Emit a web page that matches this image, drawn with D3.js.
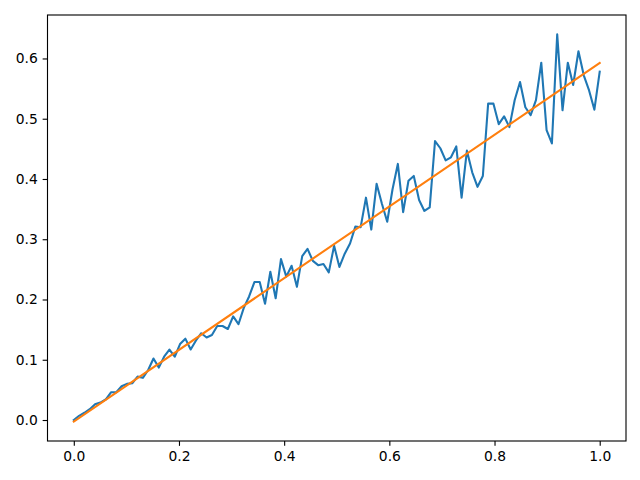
<!DOCTYPE html>
<html>
<head>
<meta charset="utf-8">
<script src="https://cdn.jsdelivr.net/npm/d3@7"></script>
<style>
  html, body { margin: 0; padding: 0; background: #fff; }
  svg { display: block; }
</style>
</head>
<body>
<svg id="chart" width="640" height="480"></svg>
<script>
// ---- data ----
const noisyY = [
  0.000, 0.007, 0.012, 0.018, 0.026, 0.029, 0.034, 0.046, 0.046, 0.056,
  0.060, 0.061, 0.072, 0.070, 0.083, 0.102, 0.087, 0.105, 0.117, 0.105,
  0.126, 0.135, 0.117, 0.132, 0.144, 0.137, 0.141, 0.156, 0.156, 0.151,
  0.172, 0.159, 0.186, 0.205, 0.229, 0.229, 0.193, 0.246, 0.202, 0.267,
  0.238, 0.256, 0.221, 0.272, 0.284, 0.264, 0.257, 0.259, 0.245, 0.289,
  0.254, 0.276, 0.293, 0.321, 0.320, 0.369, 0.316, 0.392, 0.359, 0.329,
  0.383, 0.425, 0.345, 0.397, 0.405, 0.365, 0.347, 0.353, 0.463, 0.451,
  0.431, 0.436, 0.454, 0.369, 0.447, 0.411, 0.387, 0.405, 0.525, 0.525,
  0.491, 0.504, 0.486, 0.531, 0.561, 0.519, 0.506, 0.531, 0.593, 0.481,
  0.459, 0.640, 0.514, 0.593, 0.556, 0.612, 0.572, 0.547, 0.515, 0.578
];
const fitX = [0, 1];
const fitY = [-0.0027, 0.5925];
const xTicks = [0, 0.2, 0.4, 0.6, 0.8, 1.0];
const yTicks = [0, 0.1, 0.2, 0.3, 0.4, 0.5, 0.6];

(function () {
  // ---- layout ----
  const dpi = 100, pt = dpi / 72;
  const mLeft = 47.5, mRight = 626, mTop = 15, mBottom = 441;
  const fontSize = 10 * pt;
  const tickLen = 3.5 * pt, tickPad = 3.5 * pt;

  const n = noisyY.length;
  const xs = noisyY.map((_, i) => i / (n - 1));
  const pts = xs.map((xv, i) => [xv, noisyY[i]]);
  const fitPts = fitX.map((xv, i) => [xv, fitY[i]]);

  const xMin = 0, xMax = 1;
  const yMin = Math.min(d3.min(noisyY), d3.min(fitY));
  const yMax = Math.max(d3.max(noisyY), d3.max(fitY));
  const xm = (xMax - xMin) * 0.05, ym = (yMax - yMin) * 0.05;

  const x = d3.scaleLinear().domain([xMin - xm, xMax + xm]).range([mLeft, mRight]);
  const y = d3.scaleLinear().domain([yMin - ym, yMax + ym]).range([mBottom, mTop]);

  const svg = d3.select("#chart");
  const line = d3.line().x(d => x(d[0])).y(d => y(d[1]));

  svg.append("path").datum(pts)
    .attr("d", line)
    .attr("fill", "none")
    .attr("stroke", "#1f77b4")
    .attr("stroke-width", 1.5 * pt)
    .attr("stroke-linejoin", "round")
    .attr("stroke-linecap", "square");

  svg.append("path").datum(fitPts)
    .attr("d", line)
    .attr("fill", "none")
    .attr("stroke", "#ff7f0e")
    .attr("stroke-width", 1.5 * pt)
    .attr("stroke-linecap", "square");

  const fmt = d3.format(".1f");
  const xAxis = svg.append("g")
    .attr("transform", `translate(0,${mBottom})`)
    .call(d3.axisBottom(x).tickValues(xTicks).tickFormat(fmt)
          .tickSize(tickLen).tickPadding(tickPad));
  const yAxis = svg.append("g")
    .attr("transform", `translate(${mLeft},0)`)
    .call(d3.axisLeft(y).tickValues(yTicks).tickFormat(fmt)
          .tickSize(tickLen).tickPadding(tickPad));

  [xAxis, yAxis].forEach(g => {
    g.select(".domain").remove();
    g.selectAll(".tick line").attr("stroke", "#000").attr("stroke-width", 0.8 * pt);
    g.selectAll(".tick text")
      .attr("fill", "#000")
      .style("font-family", "'DejaVu Sans', sans-serif")
      .style("font-size", fontSize + "px");
  });

  svg.append("rect")
    .attr("x", mLeft).attr("y", mTop)
    .attr("width", mRight - mLeft).attr("height", mBottom - mTop)
    .attr("fill", "none")
    .attr("stroke", "#000")
    .attr("stroke-width", 0.8 * pt)
    .attr("stroke-linejoin", "miter");
})();
</script>
</body>
</html>
